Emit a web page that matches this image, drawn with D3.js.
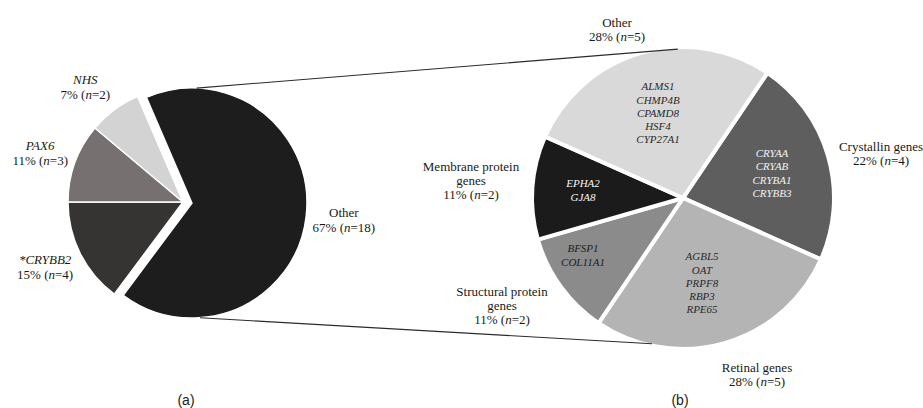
<!DOCTYPE html>
<html>
  <head>
    <meta charset="utf-8">
    <title>Gene groups</title>
    <script src="https://cdn.jsdelivr.net/npm/d3@7"></script>
    <style>
      body { margin: 0; background: #fff; }
      svg { display: block; font-family: "Liberation Serif", "Times New Roman", serif; }
    </style>
  </head>
  <body>
    <svg id="chart" width="923" height="408"></svg>

    <script>
      // data (a)
      leftNames = ["Other", "*CRYBB2", "PAX6", "NHS"];
      leftCounts = [18, 4, 3, 2];
      leftPcts = ["67%", "15%", "11%", "7%"];

      // data (b)
      rightNames = [["Crystallin genes"], ["Retinal genes"], ["Structural protein", "genes"], ["Membrane protein", "genes"], ["Other"]];
      rightCounts = [4, 5, 2, 2, 5];
      rightPcts = ["22%", "28%", "11%", "11%", "28%"];
      rightGenes = [
        ["CRYAA", "CRYAB", "CRYBA1", "CRYBB3"],
        ["AGBL5", "OAT", "PRPF8", "RBP3", "RPE65"],
        ["BFSP1", "COL11A1"],
        ["EPHA2", "GJA8"],
        ["ALMS1", "CHMP4B", "CPAMD8", "HSF4", "CYP27A1"]
      ];

      // styles / layout
      rad = Math.PI / 180;
      leftColors = ["#1d1d1d", "#363333", "#767070", "#d3d3d3"];
      rightColors = ["#5e5e5e", "#b4b4b4", "#8b8b8b", "#1b1b1b", "#d9d9d9"];
      geneColors = ["#f2f2f2", "#2a2a2a", "#222", "#f5f5f5", "#2a2a2a"];
      leftC = [183, 202];
      leftR = 115;
      leftExplode = [9, 0, 0, 0];
      leftNudge = [[1, -1], [-2, -3], [0, 3], [-7, 7]];
      rightC = [683, 198];
      rightR = 151;
      rightLabelPos = [[881, 153], [757, 374], [502, 305.5], [471, 180], [617, 29]];
      genePos = [[772, 173], [702, 283], [583, 255], [583, 190], [658, 113]];

      svg = d3.select("#chart");

      function polar(c, a, r) {
        return [c[0] + r * Math.sin(a), c[1] - r * Math.cos(a)];
      }

      // lines is a list of lists of [text, italic]
      function block(x, y, lines, lh, size, colour) {
        let t = svg.append("text")
          .attr("text-anchor", "middle")
          .style("font-size", size + "px")
          .style("fill", colour);
        let y0 = y - (lines.length - 1) / 2 * lh;
        lines.forEach((parts, i) => {
          parts.forEach((p, j) => {
            let s = t.append("tspan").text(p[0]);
            if (j == 0) s.attr("x", x).attr("y", y0 + i * lh).attr("dy", "0.35em");
            if (p[1]) s.style("font-style", "italic");
          });
        });
      }

      function pctLine(pct, n) {
        return [[pct + " (", false], ["n", true], ["=" + n + ")", false]];
      }

      // left pie
      leftPie = d3.pie().sort(null).value(d => d)
        .startAngle(-23.3 * rad).endAngle(336.7 * rad);
      leftArcs = leftPie(leftCounts);
      leftArc = d3.arc().innerRadius(0).outerRadius(leftR);
      mid = d => (d.startAngle + d.endAngle) / 2;

      svg.append("g")
        .attr("transform", "translate(" + leftC + ")")
        .selectAll("path")
        .data(leftArcs)
        .join("path")
          .attr("d", leftArc)
          .attr("transform", (d, i) => "translate(" + polar([0, 0], mid(d), leftExplode[i]) + ")")
          .style("fill", (d, i) => leftColors[i])
          .style("stroke", "#fff")
          .style("stroke-width", 1.5);

      leftArcs.forEach((d, i) => {
        let p = polar(leftC, mid(d), 152 + leftExplode[i]);
        block(p[0] + leftNudge[i][0], p[1] + leftNudge[i][1],
          [[[leftNames[i], leftNames[i] != "Other"]], pctLine(leftPcts[i], leftCounts[i])], 15, 13, "#1a1a1a");
      });

      // right pie
      rightPie = d3.pie().sort(null).value(d => d)
        .startAngle(34 * rad).endAngle(394 * rad);
      rightArcs = rightPie(rightCounts);
      rightArc = d3.arc().innerRadius(0).outerRadius(rightR);

      svg.append("g")
        .attr("transform", "translate(" + rightC + ")")
        .selectAll("path")
        .data(rightArcs)
        .join("path")
          .attr("d", rightArc)
          .style("fill", (d, i) => rightColors[i])
          .style("stroke", "#fff")
          .style("stroke-width", 4);

      // connecting lines
      leftOther = polar(leftC, mid(leftArcs[0]), leftExplode[0]);
      links = [[2.3, -2], [176, 192]];
      links.forEach(l => {
        let a = polar(leftOther, l[0] * rad, leftR);
        let b = polar(rightC, l[1] * rad, rightR - 2);
        svg.append("line")
          .attr("x1", a[0]).attr("y1", a[1])
          .attr("x2", b[0]).attr("y2", b[1])
          .style("stroke", "#2b2b2b")
          .style("stroke-width", 1.1);
      });

      rightArcs.forEach((d, i) => {
        let lines = rightNames[i].map(s => [[s, false]]);
        lines.push(pctLine(rightPcts[i], rightCounts[i]));
        block(rightLabelPos[i][0], rightLabelPos[i][1], lines, 14, 13, "#1a1a1a");
        block(genePos[i][0], genePos[i][1], rightGenes[i].map(s => [[s, true]]), 13.3, 11, geneColors[i]);
      });

      // panel letters
      [["(a)", 186], ["(b)", 680]].forEach(p => {
        svg.append("text")
          .attr("x", p[1])
          .attr("y", 400)
          .attr("dy", "0.35em")
          .attr("text-anchor", "middle")
          .style("font-family", "'Liberation Sans', sans-serif")
          .style("font-size", "14px")
          .style("fill", "#1a1a1a")
          .text(p[0]);
      });
    </script>
  </body>
</html>
